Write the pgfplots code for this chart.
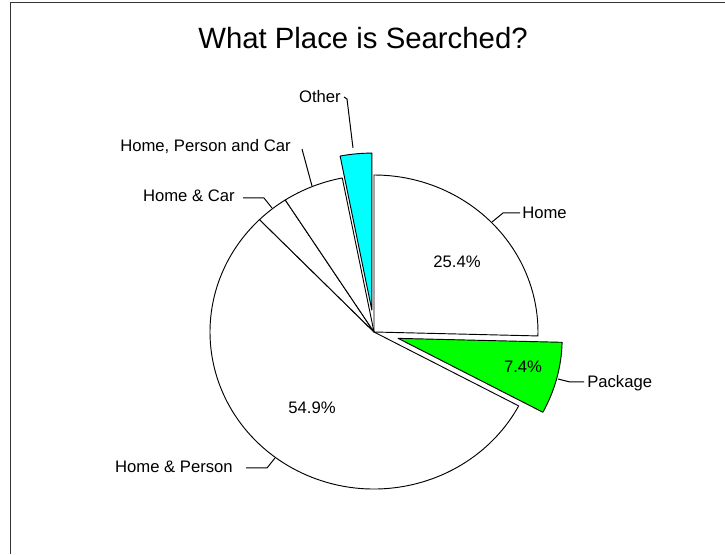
\documentclass[border=0pt]{standalone}
\usepackage{pgfplots}
\pgfplotsset{compat=1.18}
\usepackage{fontspec}
\setmainfont{Liberation Sans}
\definecolor{pgreen}{HTML}{00FF00}
\definecolor{pcyan}{HTML}{00FFFF}
% shares in percent, clockwise from 12 o'clock
\def\pHome{25.4}
\def\pPackage{7.4}
\def\pHP{54.9}
\def\pHC{3.2}
\def\pHPC{6.0}
\def\pOther{3.1}
\pgfmathsetmacro\aA{90}
\pgfmathsetmacro\aB{\aA-3.6*\pHome}
\pgfmathsetmacro\aC{\aB-3.6*\pPackage}
\pgfmathsetmacro\aD{\aC-3.6*\pHP}
\pgfmathsetmacro\aE{\aD-3.6*\pHC}
\pgfmathsetmacro\aF{\aE-3.6*\pHPC}
\pgfmathsetmacro\aG{\aF-3.6*\pOther}
\newcommand{\slice}[4]{%
  \filldraw[fill=#4, draw=black, line width=0.7pt, line join=round]
    (axis cs:374,222) ++({(#1+#2)/2}:#3) -- ++(#1:123pt and 117.75pt)
    arc[start angle=#1, end angle=#2, x radius=123pt, y radius=117.75pt] -- cycle;}
\begin{document}
\begin{tikzpicture}
\begin{axis}[
  x=0.75pt, y=0.75pt,
  xmin=0, xmax=725, ymin=0, ymax=554,
  hide axis, clip=false,
]
\coordinate (ll) at (axis cs:0,0);
\coordinate (ur) at (axis cs:725,554);
% frame
\draw[line width=0.9pt, color=black!80] (axis cs:10.5,0) -- (axis cs:10.5,551.5) -- (axis cs:725,551.5);
% slices
\slice{\aA}{\aB}{0pt}{white}
\slice{\aB}{\aC}{18.75pt}{pgreen}
\slice{\aC}{\aD}{0pt}{white}
\slice{\aD}{\aE}{0pt}{white}
\slice{\aE}{\aF}{0pt}{white}
\slice{\aF}{\aG}{16.5pt}{pcyan}
% title
\node[anchor=base, inner sep=0pt, font=\fontsize{22}{26}\selectfont] at (axis cs:363,505) {What Place is Searched?};
% leaders
\begin{scope}[line width=0.75pt]
\draw (axis cs:520,341) -- (axis cs:503,341) -- (axis cs:492,332);
\draw (axis cs:584,172) -- (axis cs:570,172) -- (axis cs:558,175);
\draw (axis cs:246,86) -- (axis cs:267,86) -- (axis cs:275,96);
\draw (axis cs:243,356) -- (axis cs:264,356) -- (axis cs:272,346);
\draw (axis cs:302,405) -- (axis cs:312,368);
\draw (axis cs:344,457) -- (axis cs:347,455) -- (axis cs:353,406);
\end{scope}
% labels
\begin{scope}[every node/.style={inner sep=0pt, font=\fontsize{12.5}{15}\selectfont}]
\node[anchor=base west] at (axis cs:522,335) {Home};
\node[anchor=base west] at (axis cs:587,166.4) {Package};
\node[anchor=base east] at (axis cs:233,81.6) {Home \& Person};
\node[anchor=base east] at (axis cs:235,352) {Home \& Car};
\node[anchor=base east] at (axis cs:291,402) {Home, Person and Car};
\node[anchor=base east] at (axis cs:341,451) {Other};
\node[anchor=base] at (axis cs:457,286) {\pHome\%};
\node[anchor=base] at (axis cs:523,181.3) {\pPackage\%};
\node[anchor=base] at (axis cs:312,140) {\pHP\%};
\end{scope}
\end{axis}
\pgfresetboundingbox
\useasboundingbox (ll) rectangle (ur);
\end{tikzpicture}
\end{document}
